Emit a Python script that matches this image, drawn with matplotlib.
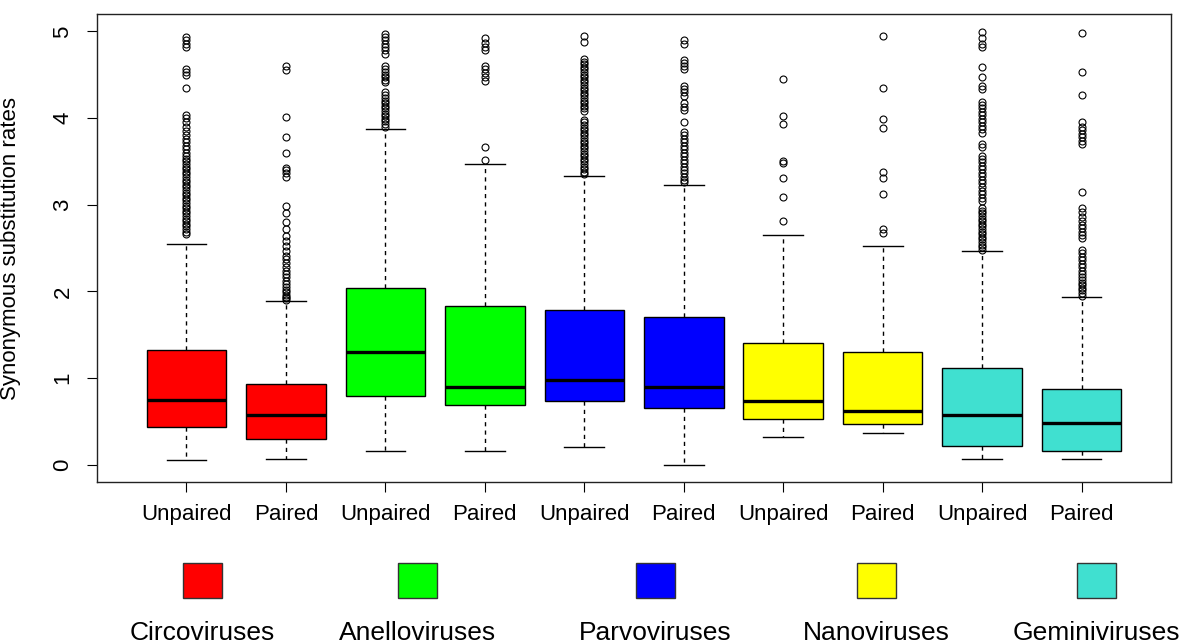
import numpy as np
import matplotlib.pyplot as plt

plt.rcParams['font.family'] = ['Liberation Sans', 'DejaVu Sans']

families = ['Circoviruses', 'Anelloviruses', 'Parvoviruses', 'Nanoviruses', 'Geminiviruses']
colors = ['#FF0000', '#00FF00', '#0000FF', '#FFFF00', '#40E0D0']
groups = ['Unpaired', 'Paired'] * 5

# five-number summaries, one per box (Unpaired/Paired for each family)
whislo = [0.055, 0.07, 0.155, 0.155, 0.205, 0.0, 0.32, 0.37, 0.06, 0.06]
q1 = [0.43, 0.30, 0.79, 0.69, 0.73, 0.65, 0.53, 0.47, 0.22, 0.155]
med = [0.75, 0.57, 1.30, 0.90, 0.98, 0.90, 0.73, 0.62, 0.57, 0.48]
q3 = [1.32, 0.925, 2.04, 1.83, 1.78, 1.70, 1.40, 1.30, 1.12, 0.87]
whishi = [2.55, 1.89, 3.87, 3.47, 3.33, 3.23, 2.65, 2.52, 2.46, 1.93]

circo_unpaired_out = [2.66, 2.69, 2.72, 2.75, 2.78, 2.81, 2.84, 2.87, 2.90, 2.93, 2.96, 2.99,
                      3.02, 3.05, 3.08, 3.11, 3.14, 3.17, 3.20, 3.23, 3.26, 3.29, 3.32, 3.35,
                      3.38, 3.41, 3.44, 3.47, 3.50, 3.53, 3.56, 3.60, 3.64, 3.68, 3.72, 3.76,
                      3.80, 3.85, 3.90, 3.95, 4.00, 4.04, 4.35, 4.50, 4.53, 4.56, 4.82, 4.86,
                      4.90, 4.93]
circo_paired_out = [1.90, 1.92, 1.94, 1.96, 1.99, 2.02, 2.05, 2.08, 2.12, 2.16, 2.20, 2.24,
                    2.28, 2.33, 2.37, 2.41, 2.46, 2.52, 2.58, 2.64, 2.72, 2.80, 2.90, 2.99,
                    3.32, 3.36, 3.40, 3.42, 3.60, 3.78, 4.01, 4.55, 4.60]
anello_unpaired_out = [3.90, 3.93, 3.96, 3.99, 4.02, 4.05, 4.08, 4.11, 4.14, 4.17, 4.20, 4.23,
                       4.26, 4.30, 4.41, 4.44, 4.47, 4.50, 4.53, 4.56, 4.60, 4.74, 4.78, 4.82,
                       4.86, 4.90, 4.94, 4.97]
anello_paired_out = [3.52, 3.66, 4.43, 4.47, 4.52, 4.56, 4.60, 4.78, 4.82, 4.87, 4.92]
parvo_unpaired_out = [3.35, 3.38, 3.41, 3.44, 3.47, 3.50, 3.53, 3.56, 3.59, 3.62, 3.65, 3.68,
                      3.71, 3.74, 3.77, 3.80, 3.83, 3.86, 3.89, 3.92, 3.95, 3.98, 4.08, 4.11,
                      4.14, 4.17, 4.20, 4.23, 4.26, 4.29, 4.32, 4.35, 4.38, 4.41, 4.44, 4.47,
                      4.50, 4.53, 4.56, 4.59, 4.62, 4.65, 4.68, 4.88, 4.95]
parvo_paired_out = [3.26, 3.29, 3.32, 3.36, 3.40, 3.44, 3.48, 3.52, 3.56, 3.60, 3.64, 3.68,
                    3.72, 3.76, 3.80, 3.84, 3.95, 4.09, 4.13, 4.17, 4.25, 4.30, 4.34, 4.37,
                    4.56, 4.60, 4.63, 4.67, 4.86, 4.90]
nano_unpaired_out = [2.81, 3.09, 3.31, 3.48, 3.50, 3.93, 4.02, 4.45]
nano_paired_out = [2.67, 2.72, 3.12, 3.31, 3.38, 3.88, 3.99, 4.35, 4.95]
gemini_unpaired_out = [2.48, 2.51, 2.54, 2.57, 2.60, 2.63, 2.66, 2.69, 2.72, 2.75, 2.78, 2.81,
                       2.84, 2.87, 2.90, 2.93, 2.96, 3.04, 3.08, 3.12, 3.16, 3.20, 3.25, 3.29,
                       3.33, 3.37, 3.41, 3.45, 3.49, 3.53, 3.56, 3.66, 3.70, 3.83, 3.87, 3.91,
                       3.95, 3.99, 4.03, 4.07, 4.11, 4.15, 4.18, 4.33, 4.37, 4.47, 4.59, 4.82,
                       4.86, 4.92, 4.99]
gemini_paired_out = [1.95, 1.98, 2.01, 2.04, 2.07, 2.10, 2.13, 2.16, 2.20, 2.24, 2.28, 2.32,
                     2.36, 2.40, 2.44, 2.48, 2.61, 2.65, 2.69, 2.73, 2.77, 2.81, 2.86, 2.91,
                     2.96, 3.15, 3.70, 3.74, 3.78, 3.82, 3.86, 3.90, 3.95, 4.27, 4.53, 4.98]

outliers = [circo_unpaired_out, circo_paired_out, anello_unpaired_out, anello_paired_out,
            parvo_unpaired_out, parvo_paired_out, nano_unpaired_out, nano_paired_out,
            gemini_unpaired_out, gemini_paired_out]

stats = []
for i in range(len(med)):
    stats.append(dict(med=med[i], q1=q1[i], q3=q3[i], whislo=whislo[i], whishi=whishi[i],
                      fliers=outliers[i]))

fig = plt.figure(figsize=(11.8, 6.44), dpi=100)
ax = fig.add_axes([0.0822, 0.2516, 0.9102, 0.7266])

pos = np.arange(1, len(stats) + 1)
bp = ax.bxp(stats, positions=pos, widths=0.8, capwidths=0.4, patch_artist=True,
            boxprops=dict(edgecolor='black', linewidth=1.0),
            medianprops=dict(color='black', linewidth=2.4, solid_capstyle='butt'),
            whiskerprops=dict(color='black', linewidth=1.0, linestyle=(0, (3, 3))),
            capprops=dict(color='black', linewidth=1.0),
            flierprops=dict(marker='o', markersize=5, markerfacecolor='none',
                            markeredgecolor='black', markeredgewidth=0.8, linestyle='none'))

for k, patch in enumerate(bp['boxes']):
    patch.set_facecolor(colors[k // 2])

ax.set_xlim(0.1, 10.9)
ax.set_ylim(-0.2, 5.2)
ax.set_xticks(pos)
ax.set_xticklabels(groups, fontsize=16)
ax.set_yticks(range(6))
ax.set_yticklabels([str(v) for v in range(6)], fontsize=16, rotation=90, va='center')
ax.tick_params(axis='x', direction='out', length=7, width=0.8, pad=9)
ax.tick_params(axis='y', direction='out', length=7, width=0.8, pad=10)
ax.set_ylabel('Synonymous substitution rates', fontsize=16)
ax.yaxis.set_label_coords(-0.071, 0.5)
for s in ax.spines.values():
    s.set_linewidth(1.0)
    s.set_color('#222222')

# family key below the plot
key_x = [202.5, 417.5, 655.5, 876.0, 1096.5]
W, H = 1180.0, 644.0
for cx, c, name in zip(key_x, colors, families):
    rect = plt.Rectangle(((cx - 19.5) / W, 1 - 598 / H), 39 / W, 35 / H,
                         transform=fig.transFigure, facecolor=c, edgecolor='#333333',
                         linewidth=1.0)
    fig.patches.append(rect)
    fig.text(cx / W, 4 / H, name, fontsize=19, ha='center', va='baseline')

fig.savefig('out.png', dpi=100)
